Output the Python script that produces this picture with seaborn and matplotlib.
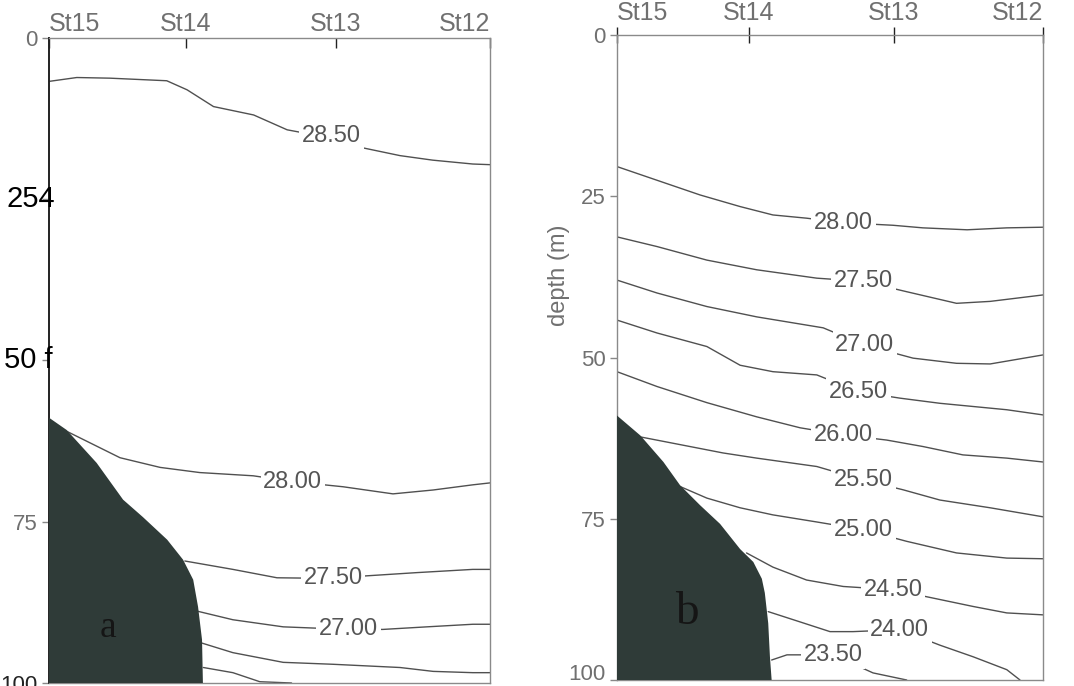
import matplotlib
matplotlib.use("Agg")
import matplotlib.pyplot as plt
import matplotlib.transforms as mtransforms
import seaborn as sns
import pandas as pd

# ---------------- data ----------------
stations = ["St15", "St14", "St13", "St12"]
station_pos = [0.0, 0.31, 0.65, 1.0]
depth_ticks = [0, 25, 50, 75, 100]

# Panel a: isotherm depths (m) along the section (x = relative distance)
a_levels = ["28.50", "28.00", "27.50", "27.00", "26.50", "26.00"]
a_x = [
    [0, 0.063, 0.138, 0.267, 0.313, 0.373, 0.464, 0.540, 0.626, 0.712, 0.796, 0.870, 0.961, 1.0],
    [0.04, 0.161, 0.252, 0.342, 0.463, 0.553, 0.667, 0.780, 0.871, 0.961, 1.0],
    [0.308, 0.417, 0.517, 0.644, 0.72, 0.834, 0.961, 1.0],
    [0.338, 0.417, 0.531, 0.678, 0.757, 0.857, 0.961, 1.0],
    [0.346, 0.417, 0.531, 0.644, 0.796, 0.871, 0.961, 1.0],
    [0.35, 0.417, 0.478, 0.55],
]
a_depth = [
    [6.8, 6.2, 6.3, 6.7, 8.1, 10.7, 12.0, 14.3, 15.4, 17.1, 18.3, 19.0, 19.6, 19.7],
    [61.0, 65.1, 66.6, 67.4, 67.9, 68.8, 69.6, 70.7, 70.1, 69.3, 69.0],
    [81.1, 82.4, 83.7, 83.8, 83.4, 82.9, 82.4, 82.4],
    [88.9, 90.2, 91.3, 91.7, 91.7, 91.3, 90.9, 90.9],
    [93.8, 95.3, 96.8, 97.1, 97.6, 98.2, 98.4, 98.4],
    [97.6, 98.4, 99.8, 100.0],
]
a_labels = ["28.50", "28.00", "27.50", "27.00"]
a_label_x = [0.64, 0.553, 0.644, 0.679]
a_label_d = [15.3, 68.8, 83.8, 91.7]
a_bottom_x = [0, 0.04, 0.108, 0.168, 0.213, 0.268, 0.304, 0.327, 0.338, 0.347, 0.349, 0]
a_bottom_d = [58.9, 60.8, 65.9, 71.6, 74.3, 77.8, 80.9, 84.0, 88.2, 93.3, 100, 100]

# Panel b
b_levels = ["28.00", "27.50", "27.00", "26.50", "26.00", "25.50", "25.00", "24.50", "24.00", "23.50"]
b_x = [
    [0, 0.093, 0.195, 0.289, 0.366, 0.445, 0.531, 0.648, 0.718, 0.822, 0.915, 1.0],
    [0, 0.094, 0.211, 0.328, 0.469, 0.578, 0.680, 0.797, 0.876, 1.0],
    [0, 0.094, 0.211, 0.328, 0.484, 0.582, 0.695, 0.797, 0.876, 1.0],
    [0, 0.094, 0.211, 0.289, 0.366, 0.469, 0.567, 0.664, 0.758, 0.915, 1.0],
    [0, 0.094, 0.211, 0.328, 0.430, 0.531, 0.633, 0.718, 0.812, 0.915, 1.0],
    [0.054, 0.171, 0.249, 0.328, 0.469, 0.578, 0.671, 0.758, 0.876, 1.0],
    [0.148, 0.211, 0.289, 0.366, 0.469, 0.578, 0.680, 0.797, 0.915, 1.0],
    [0.304, 0.366, 0.445, 0.531, 0.648, 0.742, 0.836, 0.915, 1.0],
    [0.355, 0.430, 0.5, 0.554, 0.664, 0.758, 0.836, 0.915, 0.946],
    [0.363, 0.399, 0.507, 0.601, 0.680],
]
b_depth = [
    [20.4, 22.5, 24.8, 26.6, 27.9, 28.4, 29.1, 29.5, 29.9, 30.2, 29.9, 29.8],
    [31.3, 32.8, 34.9, 36.4, 37.7, 38.2, 39.8, 41.6, 41.3, 40.3],
    [38.0, 40.0, 42.1, 43.7, 45.4, 48.1, 50.1, 50.9, 51.0, 49.6],
    [44.2, 46.2, 48.3, 51.2, 52.2, 52.7, 55.3, 56.3, 57.1, 58.1, 58.9],
    [52.2, 54.5, 57.0, 59.2, 60.9, 62.0, 62.8, 63.8, 65.1, 65.6, 66.2],
    [62.3, 63.8, 64.8, 65.6, 66.9, 69.0, 70.5, 72.1, 73.3, 74.7],
    [70.0, 71.8, 73.3, 74.4, 75.5, 76.7, 78.5, 80.3, 81.1, 81.2],
    [80.3, 82.5, 84.5, 85.5, 86.0, 87.3, 88.6, 89.6, 89.9],
    [89.4, 91.0, 92.5, 92.5, 92.2, 94.6, 96.4, 98.4, 100.0],
    [96.9, 96.1, 96.1, 98.9, 100.0],
]
b_labels = b_levels
b_label_x = [0.531, 0.578, 0.582, 0.567, 0.531, 0.578, 0.578, 0.648, 0.664, 0.507]
b_label_d = [29.1, 38.2, 48.1, 55.3, 62.0, 69.0, 76.7, 86.0, 92.2, 96.1]
b_bottom_x = [0, 0.055, 0.109, 0.148, 0.195, 0.242, 0.289, 0.320, 0.340, 0.347, 0.355, 0.359, 0.363, 0]
b_bottom_d = [59.0, 62.1, 66.2, 69.8, 72.9, 75.8, 79.7, 81.7, 84.3, 86.5, 91.2, 96.4, 100, 100]


def to_frame(levels, xs, ds):
    rows = []
    for lev, xx, dd in zip(levels, xs, ds):
        for i, (x, d) in enumerate(zip(xx, dd)):
            rows.append({"level": lev, "x": x, "depth": d, "order": i})
    return pd.DataFrame(rows)


df_a = to_frame(a_levels, a_x, a_depth)
df_b = to_frame(b_levels, b_x, b_depth)

# ---------------- figure ----------------
sns.set_theme(style="white")
plt.rcParams["font.family"] = ["Liberation Sans", "DejaVu Sans"]

fig = plt.figure(figsize=(10.74, 6.86), dpi=100)
ax_a = fig.add_axes([49 / 1074, 1 - 683 / 686, 441 / 1074, 645.5 / 686])
ax_b = fig.add_axes([617 / 1074, 1 - 680 / 686, 426 / 1074, 645 / 686])

LINE = "#505050"
GREY = "#707070"
FILL = "#2f3b38"
lab_bbox = dict(boxstyle="square,pad=0.12", fc="white", ec="none")

for ax, df, bx, bd, labs, lx, ld in [
    (ax_a, df_a, a_bottom_x, a_bottom_d, a_labels, a_label_x, a_label_d),
    (ax_b, df_b, b_bottom_x, b_bottom_d, b_labels, b_label_x, b_label_d),
]:
    sns.lineplot(data=df, x="x", y="depth", units="level", estimator=None,
                 sort=False, color=LINE, lw=1.0, ax=ax, legend=False)
    ax.fill(bx, bd, color=FILL, zorder=3, lw=0)
    for t, x, d in zip(labs, lx, ld):
        ax.text(x, d, t, ha="center", va="center", fontsize=17, color="#555555",
                bbox=lab_bbox, zorder=4)
    ax.set_xlim(0, 1)
    ax.set_ylim(100, 0)
    ax.set_xlabel("")
    ax.set_ylabel("")
    ax.xaxis.tick_top()
    ax.set_xticks(station_pos)
    ax.set_xticklabels(stations, fontsize=18, color=GREY)
    xtl = ax.get_xticklabels()
    xtl[0].set_ha("left")
    xtl[-1].set_ha("right")
    ax.tick_params(axis="x", which="both", top=True, bottom=False, direction="in",
                   length=7, width=1, color="#222222", pad=1)
    ax.set_yticks(depth_ticks)
    ax.tick_params(axis="y", left=True, direction="out", length=5, width=1,
                   color="#888888", pad=3)
    for s in ax.spines.values():
        s.set_color("#8a8a8a")
        s.set_linewidth(1.0)

# panel a: odd scanned tick labels
ax_a.set_yticklabels(["0", "", "", "75", "100"], fontsize=16)
ytl = ax_a.get_yticklabels()
for t, c in zip(ytl, [GREY, GREY, GREY, GREY, "#222222"]):
    t.set_color(c)
ax_a.spines["left"].set_color("#222222")
ax_a.spines["left"].set_linewidth(1.4)
ax_a.text(0.014, 25, "254", transform=ax_a.get_yaxis_transform(), ha="right",
          va="center", fontsize=21, color="black")
ax_a.text(0.008, 50, "50 f", transform=ax_a.get_yaxis_transform(), ha="right",
          va="center", fontsize=21, color="black")
ax_a.text(0.134, 91.4, "a", ha="center", va="center", fontsize=27,
          family="Liberation Serif", color="#151515", zorder=5)

# panel b
ax_b.set_yticklabels([str(v) for v in depth_ticks], fontsize=16, color=GREY)
last = ax_b.get_yticklabels()[-1]
last.set_transform(last.get_transform() +
                   mtransforms.ScaledTranslation(0, 8 / 100, fig.dpi_scale_trans))
ax_b.set_ylabel("depth (m)", fontsize=17, color=GREY)
ax_b.yaxis.set_label_coords(-0.11, 0.628)
ax_b.tick_params(axis="x", direction="inout", length=12)
ax_b.text(0.164, 89.6, "b", ha="center", va="center", fontsize=34,
          family="Liberation Serif", color="#151515", zorder=5)

fig.savefig("out.png", dpi=100)
